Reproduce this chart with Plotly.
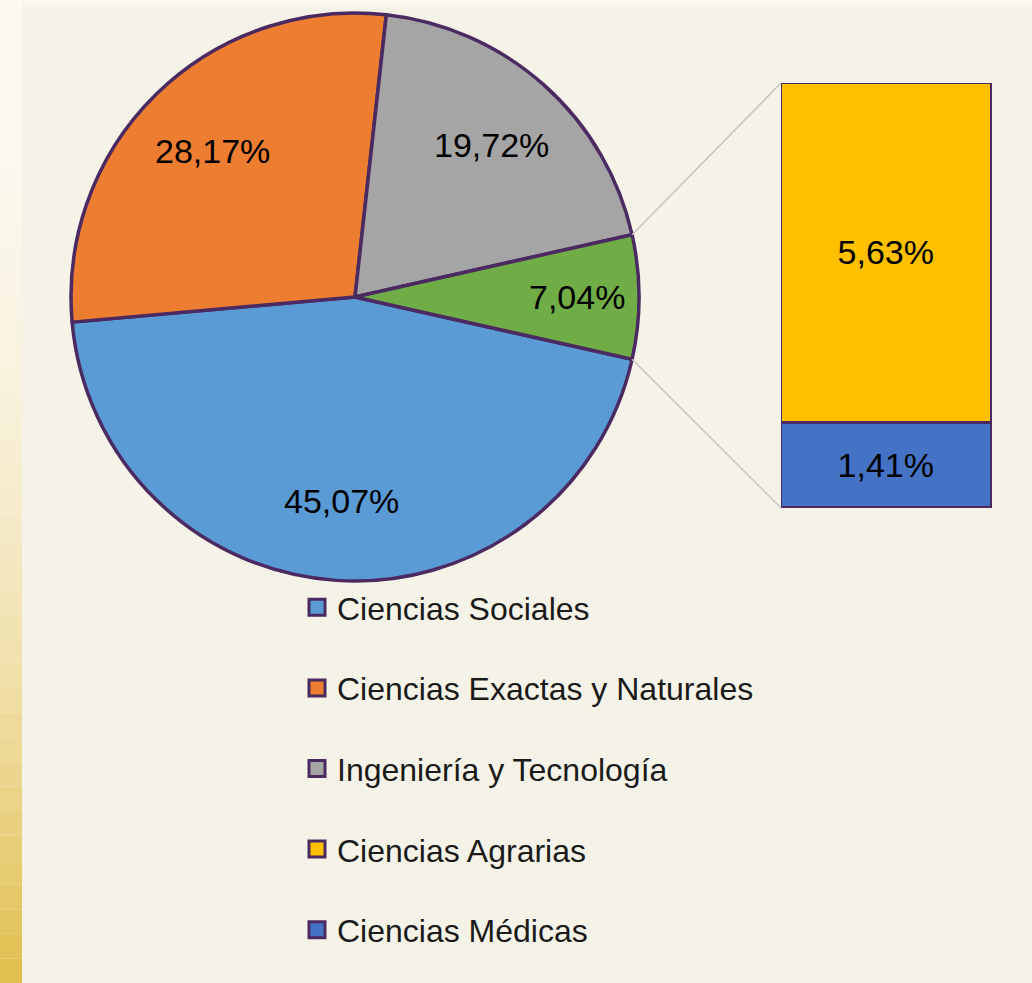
import math
import plotly.graph_objects as go

# ---------------- data ----------------
pie_labels = ["Ciencias Sociales", "Ciencias Exactas y Naturales",
              "Ingeniería y Tecnología", "Otras"]
pie_values = [45.07, 28.17, 19.72, 7.04]
pie_colors = ["#5B9BD5", "#ED7D31", "#A5A5A5", "#70AD47"]

bar_labels = ["Ciencias Médicas", "Ciencias Agrarias"]   # bottom -> top
bar_values = [1.41, 5.63]
bar_colors = ["#4472C4", "#FFC000"]

legend_labels = ["Ciencias Sociales", "Ciencias Exactas y Naturales",
                 "Ingeniería y Tecnología", "Ciencias Agrarias", "Ciencias Médicas"]
legend_colors = ["#5B9BD5", "#ED7D31", "#A5A5A5", "#FFC000", "#4472C4"]

# ---------------- style ----------------
W, H = 1032, 983
BG = "#F5F3E7"
EDGE = "#4B2A62"
FONT = "Liberation Sans, Arial, sans-serif"

def fmt(v):
    return f"{v:.2f}".replace(".", ",") + "%"

def px(x):
    return x / W

def py(y):
    return 1 - y / H

# pie placement (pixels)
pie_x0, pie_x1, pie_y0, pie_y1 = 71, 639, 13, 581
# bar placement (pixels)
bar_x0, bar_x1, bar_y0, bar_y1 = 781, 992, 83, 508

fig = go.Figure()

half = pie_values[-1] * 3.6 / 2
rotation = 90 + half
fig.add_trace(go.Pie(
    labels=pie_labels, values=pie_values, sort=False, direction="clockwise",
    rotation=rotation,
    marker=dict(colors=pie_colors, line=dict(color=EDGE, width=3.5)),
    textinfo="none",
    domain=dict(x=[px(pie_x0), px(pie_x1)], y=[py(pie_y1), py(pie_y0)]),
    showlegend=False, hoverinfo="label+percent",
))

for lab, val, col in zip(bar_labels, bar_values, bar_colors):
    fig.add_trace(go.Bar(
        x=[0], y=[val], name=lab, width=1,
        marker=dict(color=col, line=dict(color=EDGE, width=3.5)),
        text=[fmt(val)], textposition="inside", insidetextanchor="middle",
        textfont=dict(family=FONT, size=34, color="black"),
        showlegend=False, xaxis="x", yaxis="y",
    ))

for i, (lab, col) in enumerate(zip(legend_labels, legend_colors)):
    fig.add_trace(go.Scatter(
        x=[None], y=[None], mode="markers", name=lab, legendgroup=f"g{i}",
        marker=dict(symbol="square", size=16, color=col,
                    line=dict(color=EDGE, width=3)),
        xaxis="x", yaxis="y",
    ))

# geometry of the pie
cx = (pie_x0 + pie_x1) / 2
cy = (pie_y0 + pie_y1) / 2
r = (pie_x1 - pie_x0) / 2

# slice labels placed at each slice's mid-angle
annotations = []
start = rotation
for i, v in enumerate(pie_values):
    span = v * 3.6
    mid = math.radians(start + span / 2)
    f = 0.78 if i == len(pie_values) - 1 else 0.72
    lx = cx + f * r * math.sin(mid)
    ly = cy - f * r * math.cos(mid)
    annotations.append(dict(x=px(lx), y=py(ly), xref="paper", yref="paper",
                            xanchor="center", yanchor="middle",
                            text=fmt(v), showarrow=False,
                            font=dict(family=FONT, size=34, color="black")))
    start += span

# connector lines from the small slice to the bar corners
a = math.radians(half)
p_top = (cx + r * math.cos(a), cy - r * math.sin(a))
p_bot = (cx + r * math.cos(a), cy + r * math.sin(a))
shapes = []
# decorative left strip gradient
n = 40
c_top = (252, 249, 240)
c_bot = (226, 192, 80)
for k in range(n):
    t = k / (n - 1)
    t2 = t ** 2.2
    c = tuple(int(c_top[j] + (c_bot[j] - c_top[j]) * t2) for j in range(3))
    shapes.append(dict(type="rect", xref="paper", yref="paper",
                       x0=0, x1=px(22), y0=1 - k / n, y1=1 - (k + 1) / n,
                       fillcolor=f"rgb{c}", line=dict(width=0), layer="below"))
shapes.append(dict(type="rect", xref="paper", yref="paper",
                   x0=px(22), x1=1, y0=py(5), y1=1,
                   fillcolor="#FBF8F1", line=dict(width=0), layer="below"))
for (sx, sy), ey in [(p_top, bar_y0), (p_bot, bar_y1)]:
    shapes.append(dict(type="line", xref="paper", yref="paper",
                       x0=px(sx), y0=py(sy), x1=px(bar_x0), y1=py(ey),
                       line=dict(color="#C4C4C4", width=1.5)))

fig.update_layout(
    width=W, height=H, autosize=False,
    margin=dict(l=0, r=0, t=0, b=0),
    paper_bgcolor=BG, plot_bgcolor="rgba(0,0,0,0)",
    barmode="stack", bargap=0,
    xaxis=dict(domain=[px(bar_x0), px(bar_x1)], range=[-0.5, 0.5],
               visible=False, fixedrange=True),
    yaxis=dict(domain=[py(bar_y1), py(bar_y0)], range=[0, sum(bar_values)],
               visible=False, fixedrange=True),
    uniformtext=dict(minsize=34, mode="show"),
    showlegend=True,
    legend=dict(x=px(297), y=py(580), xanchor="left", yanchor="top",
                font=dict(family=FONT, size=32, color="#1A1A1A"),
                bgcolor="rgba(0,0,0,0)", tracegroupgap=36,
                traceorder="grouped", itemclick=False, itemdoubleclick=False),
    shapes=shapes,
    annotations=annotations,
)

fig.write_html("out.html", config={"displayModeBar": False},
               post_script="document.body.style.margin='0';"
                           "document.body.style.padding='0';"
                           "document.body.style.overflow='hidden';")
